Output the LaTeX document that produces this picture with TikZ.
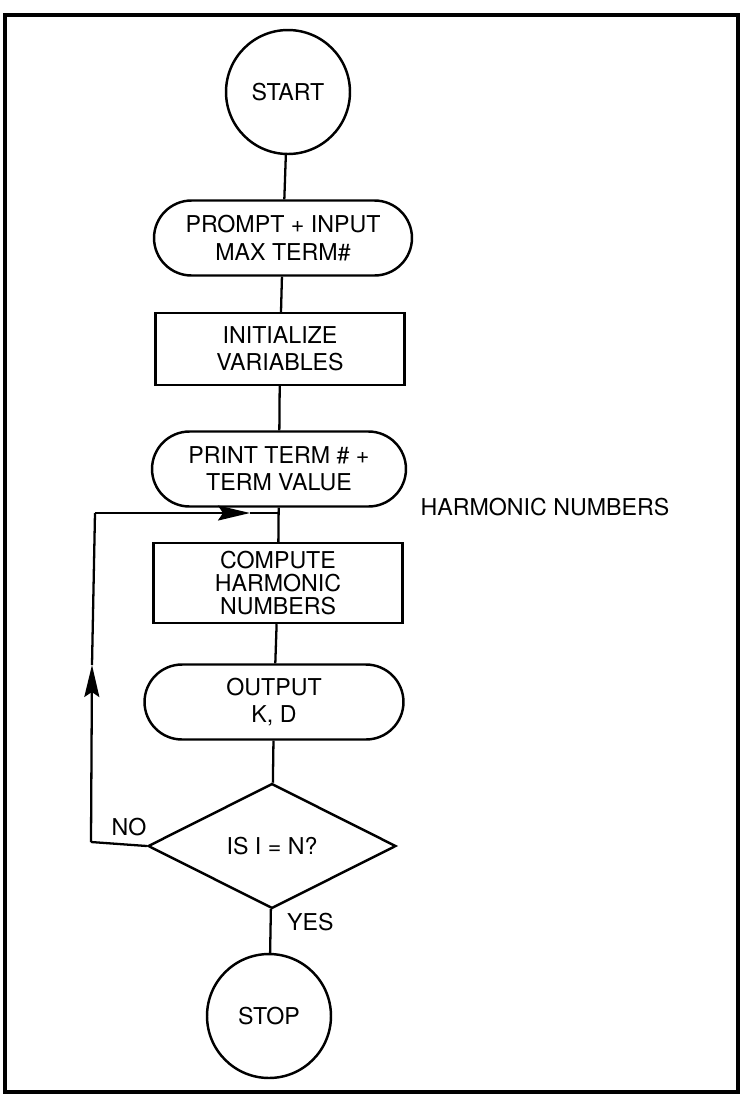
\documentclass[tikz,border=0pt]{standalone}
\usepackage{fontspec}
\setmainfont{TeX Gyre Heros}
\usepackage{tikz}
\usetikzlibrary{arrows.meta, shapes.geometric, shapes.misc}

\begin{document}
\begin{tikzpicture}[>=Stealth, x=0.02cm, y=-0.02cm,
    every node/.style={font=\fontsize{13.2}{15.6}\selectfont},
    term/.style={circle, draw, line width=1.4pt, minimum size=2.48cm, inner sep=0pt},
    io/.style={rounded rectangle, draw, line width=1.4pt, minimum width=5.16cm, minimum height=1.5cm, align=center, inner sep=0pt},
    proc/.style={rectangle, draw, line width=1.4pt, minimum width=4.98cm, minimum height=1.44cm, align=center, inner sep=0pt},
    decide/.style={diamond, draw, line width=1.4pt, minimum width=4.96cm, minimum height=2.5cm, inner sep=0pt},
    flow/.style={line width=1.3pt},
    tip/.style={-{Stealth[length=0.64cm, width=0.3cm, inset=0.1cm]}}]
    \useasboundingbox (0,0) rectangle (741,1100);

    % frame
    \draw[line width=2.8pt] (5,15) rectangle (738,1092);

    % boxes
    \node[term] (start) at (288,92) {START};
    \node[io] (prompt) at (283,238) {PROMPT + INPUT\\MAX TERM\#};
    \node[proc] (init) at (280,349) {INITIALIZE\\VARIABLES};
    \node[io, minimum width=5.08cm] (print) at (279,469) {PRINT TERM \# +\\TERM VALUE};
    \node[proc, minimum height=1.6cm, font=\fontsize{13.2}{13}\selectfont] (comp) at (278,583) {COMPUTE\\HARMONIC\\NUMBERS};
    \node[io, minimum width=5.18cm] (output) at (274,702) {OUTPUT\\K, D};
    \node[decide] (test) at (272,846) {IS I = N?};
    \node[term] (stop) at (269,1016) {STOP};

    % labels
    \node (title) at (545,507) {HARMONIC NUMBERS};
    \node (no) at (129,827) {NO};
    \node[anchor=west] (yes) at (281,922) {YES};

    % main line
    \draw[flow] (start) -- (prompt);
    \draw[flow] (prompt) -- (init);
    \draw[flow] (init) -- (print);
    \draw[flow] (print) -- (comp);
    \draw[flow] (comp) -- (output);
    \draw[flow] (output) -- (test);
    \draw[flow] (test) -- (stop);

    % loop back
    \coordinate (nocorner) at (91,842);
    \coordinate (uptip) at (92,665);
    \coordinate (topcorner) at (95,513);
    \coordinate (righttip) at (250,513);
    \coordinate (join) at (279,513);
    \draw[flow] (test.west) -- (nocorner);
    \draw[flow, tip] (nocorner) -- (uptip);
    \draw[flow] (uptip) -- (topcorner);
    \draw[flow, tip] (topcorner) -- (righttip);
    \draw[flow] (righttip) -- (join);
\end{tikzpicture}
\end{document}
